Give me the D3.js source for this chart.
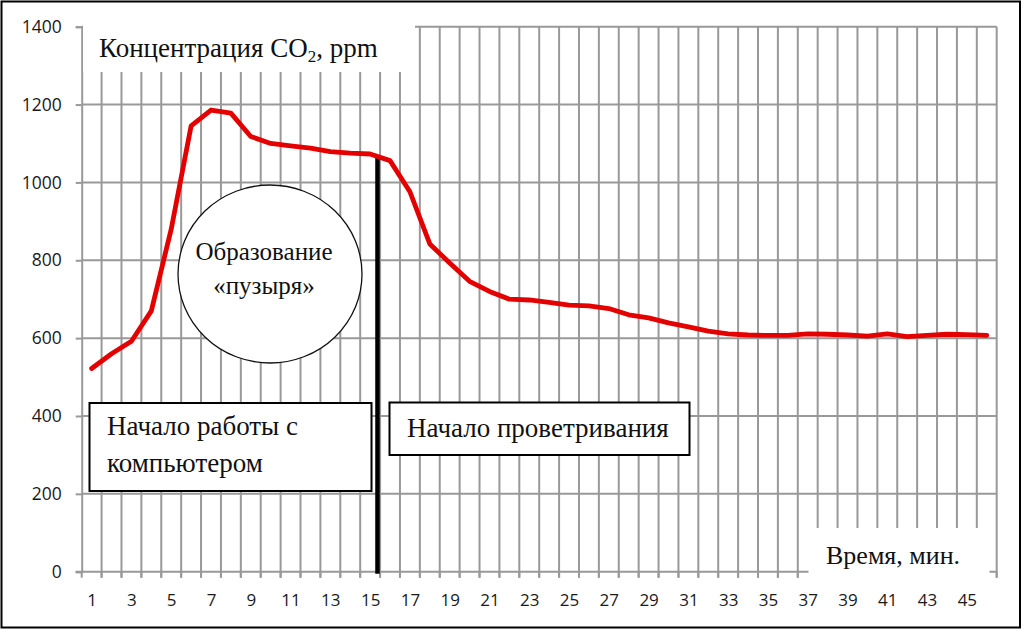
<!DOCTYPE html>
<html>
<head>
<meta charset="utf-8">
<script src="https://cdn.jsdelivr.net/npm/d3@7"></script>
<style>
  html, body { margin: 0; padding: 0; background: #fff; }
  svg { display: block; }
</style>
</head>
<body>
<svg id="chart" width="1024" height="630"></svg>
<script>
// ---- data ----
const minutes = [1,2,3,4,5,6,7,8,9,10,11,12,13,14,15,16,17,18,19,20,21,22,23,
                 24,25,26,27,28,29,30,31,32,33,34,35,36,37,38,39,40,41,42,43,44,45,46];
const co2 = [522,560,592,670,880,1145,1186,1178,1118,1100,1094,1088,1079,1075,1073,1056,
             976,842,793,746,720,700,698,692,685,683,676,660,652,639,629,618,611,608,
             607,607,611,610,608,605,611,604,607,610,609,607];
const yTicks = [0,200,400,600,800,1000,1200,1400];
const xTickLabels = [1,3,5,7,9,11,13,15,17,19,21,23,25,27,29,31,33,35,37,39,41,43,45];
const yTitle = "Концентрация CO";
const xTitle = "Время, мин.";
const bubbleLines = ["Образование", "«пузыря»"];
const workLines = ["Начало работы с", "компьютером"];
const ventLabel = "Начало проветривания";
const ventMinute = [15.37];

// ---- layout ----
(function () {
const svg = d3.select("#chart");
const pL = 81.7, pR = 996.7, pT = 26.7, pB = 571.7;
const x = d3.scaleLinear().domain([0.5, minutes.length + 0.5]).range([pL, pR]);
const y = d3.scaleLinear().domain([0, 1400]).range([pB, pT]);
const grid = "#999";
const serif = "'Liberation Serif', 'Times New Roman', serif";
const sans = "'Open Sans', 'Noto Sans', sans-serif";

svg.append("rect").attr("width", 1024).attr("height", 630).attr("fill", "#fff");

// gridlines
const boundaries = [0].concat(minutes).map(d => d + 0.5);
svg.append("g").selectAll("line").data(yTicks.filter(d => d > 0)).join("line")
  .attr("x1", pL).attr("x2", pR)
  .attr("y1", d => y(d)).attr("y2", d => y(d))
  .attr("stroke", grid).attr("stroke-width", 2);
svg.append("g").selectAll("line").data(boundaries.slice(1)).join("line")
  .attr("x1", d => x(d)).attr("x2", d => x(d))
  .attr("y1", pT).attr("y2", pB + 6)
  .attr("stroke", grid).attr("stroke-width", 2);

// x axis line + ticks
svg.append("line").attr("x1", pL - 6).attr("x2", pR)
  .attr("y1", y(0)).attr("y2", y(0)).attr("stroke", grid).attr("stroke-width", 2);
svg.append("g").selectAll("line").data(boundaries).join("line")
  .attr("x1", d => x(d)).attr("x2", d => x(d))
  .attr("y1", pB).attr("y2", pB + 6)
  .attr("stroke", grid).attr("stroke-width", 2);

// y axis
const yAxis = svg.append("g").attr("transform", `translate(${pL},0)`)
  .call(d3.axisLeft(y).tickValues(yTicks).tickSize(6).tickPadding(14).tickFormat(d3.format("d")));
yAxis.select(".domain").attr("stroke", grid).attr("stroke-width", 2);
yAxis.selectAll(".tick line").attr("stroke", grid).attr("stroke-width", 2);
yAxis.selectAll(".tick text").attr("font-family", sans).attr("font-size", 17.5)
  .attr("fill", "#1a1a1a");

// vertical ventilation marker
const ventVal = d3.scaleLinear().domain(minutes).range(co2)(ventMinute[0]);
svg.append("line")
  .attr("x1", x(ventMinute[0])).attr("x2", x(ventMinute[0]))
  .attr("y1", y(ventVal)).attr("y2", pB + 2)
  .attr("stroke", "#000").attr("stroke-width", 4.5);

// red line
svg.append("path").datum(minutes)
  .attr("d", d3.line().x(d => x(d)).y((d, i) => y(co2[i])))
  .attr("fill", "none").attr("stroke", "#e50000").attr("stroke-width", 4.8)
  .attr("stroke-linejoin", "round").attr("stroke-linecap", "round");

// title cover box
svg.append("rect").attr("x", 83).attr("y", 4).attr("width", 332).attr("height", 68).attr("fill", "#fff");
const tt = svg.append("text").attr("x", 99).attr("y", 57)
  .attr("font-family", serif).attr("font-size", 27).attr("fill", "#111");
tt.append("tspan").text(yTitle);
tt.append("tspan").attr("font-size", 17).attr("dy", 5).text("2");
tt.append("tspan").attr("dy", -5).text(", ppm");

// x title cover box
svg.append("rect").attr("x", 808.5).attr("y", 528).attr("width", 181).attr("height", 58).attr("fill", "#fff");
svg.append("text").attr("x", 826).attr("y", 564)
  .attr("font-family", serif).attr("font-size", 26).attr("fill", "#111").text(xTitle);

// x tick labels
const xAxis = svg.append("g").attr("transform", `translate(0,${pB})`)
  .call(d3.axisBottom(x).tickValues(xTickLabels).tickSize(0).tickPadding(22).tickFormat(d3.format("d")));
xAxis.select(".domain").remove();
xAxis.selectAll(".tick text").attr("font-family", sans).attr("font-size", 17)
  .attr("fill", "#1a1a1a");

// bubble
svg.append("ellipse").attr("cx", 270).attr("cy", 274).attr("rx", 92).attr("ry", 89)
  .attr("fill", "#fff").attr("stroke", "#111").attr("stroke-width", 1.3);
svg.append("g").selectAll("text").data(bubbleLines).join("text")
  .attr("x", 264).attr("y", (d, i) => 260 + i * 34)
  .attr("text-anchor", "middle")
  .attr("font-family", serif).attr("font-size", 25).attr("fill", "#111").text(d => d);

// box: work start
svg.append("rect").attr("x", 89.5).attr("y", 403).attr("width", 282).attr("height", 88)
  .attr("fill", "#fff").attr("stroke", "#000").attr("stroke-width", 2);
svg.append("g").selectAll("text").data(workLines).join("text")
  .attr("x", 107).attr("y", (d, i) => 435 + i * 37)
  .attr("font-family", serif).attr("font-size", 27).attr("fill", "#111").text(d => d);

// box: ventilation
svg.append("rect").attr("x", 389.5).attr("y", 402.5).attr("width", 300).attr("height", 52.5)
  .attr("fill", "#fff").attr("stroke", "#000").attr("stroke-width", 2);
svg.append("text").attr("x", 407).attr("y", 437)
  .attr("font-family", serif).attr("font-size", 27).attr("fill", "#111").text(ventLabel);

// outer border
svg.append("rect").attr("x", 1.5).attr("y", 1.5).attr("width", 1018.5).attr("height", 626)
  .attr("fill", "none").attr("stroke", "#000").attr("stroke-width", 2);
})();
</script>
</body>
</html>
